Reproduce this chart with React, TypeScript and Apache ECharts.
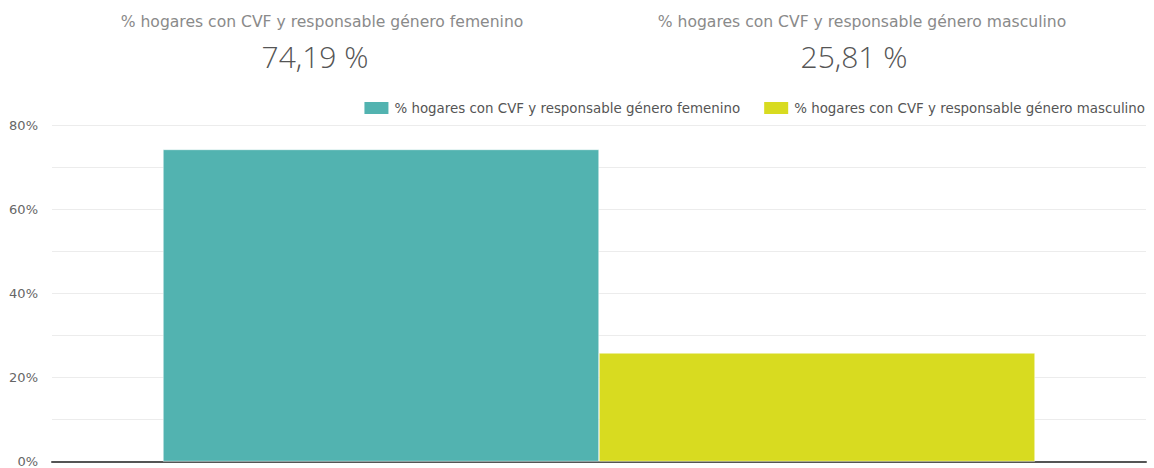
import React, { useEffect, useRef } from "react";
import * as echarts from "echarts";

const seriesNames = [
  "% hogares con CVF y responsable género femenino",
  "% hogares con CVF y responsable género masculino",
];
const seriesValues = [74.19, 25.81];
const kpiLabels = ["74,19 %", "25,81 %"];
const colors = ["#52b3b0", "#d8db20"];
const category = ["Total"];
const yTicks = [0, 20, 40, 60, 80];

const FONT = "'DejaVu Sans', sans-serif";
const NUMFONT = "'Open Sans', sans-serif";

export default function App() {
  const ref = useRef<HTMLDivElement>(null);
  useEffect(() => {
    if (!ref.current) return;
    const chart = echarts.init(ref.current, undefined, { renderer: "svg" });
    chart.setOption({
      animation: false,
      textStyle: { fontFamily: FONT },
      title: [
        {
          text: seriesNames[0],
          left: 317,
          top: 9,
          textAlign: "center",
          textStyle: { fontSize: 15.6, fontWeight: "normal", color: "#8a8a8a", fontFamily: FONT },
        },
        {
          text: kpiLabels[0],
          left: 310,
          top: 36,
          textAlign: "center",
          textStyle: { fontSize: 30, fontWeight: 300, color: "#555", fontFamily: NUMFONT },
        },
        {
          text: seriesNames[1],
          left: 857,
          top: 9,
          textAlign: "center",
          textStyle: { fontSize: 15.6, fontWeight: "normal", color: "#8a8a8a", fontFamily: FONT },
        },
        {
          text: kpiLabels[1],
          left: 849,
          top: 36,
          textAlign: "center",
          textStyle: { fontSize: 30, fontWeight: 300, color: "#555", fontFamily: NUMFONT },
        },
      ],
      legend: {
        right: 4,
        top: 95,
        icon: "rect",
        itemWidth: 26,
        itemHeight: 14,
        itemGap: 22,
        textStyle: { fontSize: 13.4, color: "#555", fontFamily: FONT },
        data: seriesNames,
      },
      grid: { left: 52, right: 8, top: 125, bottom: 6, containLabel: false },
      xAxis: {
        type: "category",
        data: category,
        axisLine: { lineStyle: { color: "#555", width: 2 } },
        axisTick: { show: false },
        axisLabel: { show: false },
      },
      yAxis: {
        type: "value",
        min: 0,
        max: 80,
        interval: 10,
        axisLine: { show: false },
        axisTick: { show: false },
        splitLine: { lineStyle: { color: "#ececec", width: 1 } },
        axisLabel: {
          margin: 14,
          color: "#666",
          fontSize: 13,
          fontFamily: FONT,
          formatter: (v: number) => (yTicks.includes(v) ? v + "%" : ""),
        },
      },
      series: seriesNames.map((name, i) => ({
        name,
        type: "bar",
        data: [seriesValues[i]],
        barWidth: 436,
        barGap: "0%",
        itemStyle: { color: colors[i], borderColor: "#fff", borderWidth: 0.5 },
      })),
    });
    return () => chart.dispose();
  }, []);
  return <div ref={ref} style={{ width: 1154, height: 468, position: "absolute", left: 0, top: 0 }} />;
}
